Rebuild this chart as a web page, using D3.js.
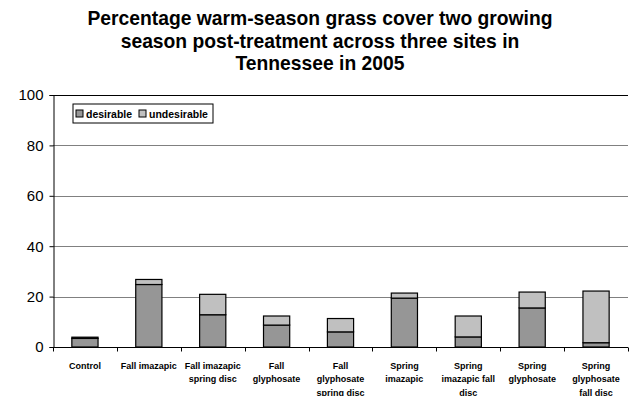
<!DOCTYPE html>
<html>
<head>
<meta charset="utf-8">
<script src="https://cdn.jsdelivr.net/npm/d3@7"></script>
<style>
  body { margin: 0; background: #fff; }
  svg { font-family: "Liberation Sans", Arial, sans-serif; }
</style>
</head>
<body>
<div id="chart"></div>
<script>
// chart data
var categories = [
  ["Control"],
  ["Fall imazapic"],
  ["Fall imazapic", "spring disc"],
  ["Fall", "glyphosate"],
  ["Fall", "glyphosate", "spring disc"],
  ["Spring", "imazapic"],
  ["Spring", "imazapic fall", "disc"],
  ["Spring", "glyphosate"],
  ["Spring", "glyphosate", "fall disc"]
];
var desirable   = [3.4, 24.8, 12.8, 8.7, 6.0, 19.4, 4.0, 15.5, 1.7];
var undesirable = [0.5, 2.0, 8.1, 3.6, 5.3, 2.0, 8.3, 6.3, 20.5];
var seriesNames = ["desirable", "undesirable"];
var yTicks = [0, 20, 40, 60, 80, 100];
var titleLines = [
  "Percentage warm-season grass cover two growing",
  "season post-treatment across three sites in",
  "Tennessee in 2005"
];

var width = 633, height = 396;
var margin = {top: 95, right: 5, bottom: 49, left: 53};
var colors = {desirable: "#969696", undesirable: "#c0c0c0"};

var svg = d3.select("#chart").append("svg")
    .attr("width", width)
    .attr("height", height);

// title
svg.append("g").selectAll("text")
    .data(titleLines)
  .enter().append("text")
    .attr("x", 320)
    .attr("y", function(d, i) { return 25 + i * 22.5; })
    .attr("text-anchor", "middle")
    .style("font-size", "19.3px")
    .style("font-weight", "bold")
    .text(function(d) { return d; });

var x = d3.scaleBand()
    .domain(d3.range(categories.length))
    .range([margin.left, width - margin.right])
    .paddingInner(0.59)
    .paddingOuter(0.295);

var xb = d3.scaleBand()
    .domain(d3.range(categories.length))
    .range([margin.left, width - margin.right]);

var y = d3.scaleLinear()
    .domain([0, 100])
    .range([height - margin.bottom, margin.top]);

// gridlines
svg.append("g").selectAll("line")
    .data(yTicks.filter(function(d) { return d > 0; }))
  .enter().append("line")
    .attr("x1", margin.left)
    .attr("x2", width - margin.right)
    .attr("y1", function(d) { return Math.round(y(d)) + 0.5; })
    .attr("y2", function(d) { return Math.round(y(d)) + 0.5; })
    .attr("stroke", function(d) { return d == 100 ? "#000" : "#808080"; })
    .attr("stroke-width", 1);

// stacked bars
var rows = categories.map(function(c, i) {
  return {i: i, desirable: desirable[i], undesirable: undesirable[i]};
});
var stacked = d3.stack().keys(seriesNames)(rows);

svg.append("g").selectAll("g")
    .data(stacked)
  .enter().append("g")
    .attr("fill", function(d) { return colors[d.key]; })
  .selectAll("rect")
    .data(function(d) { return d; })
  .enter().append("rect")
    .attr("x", function(d) { return x(d.data.i); })
    .attr("y", function(d) { return y(d[1]); })
    .attr("width", x.bandwidth())
    .attr("height", function(d) { return y(d[0]) - y(d[1]); })
    .attr("stroke", "#000")
    .attr("stroke-width", 1.2);

// y axis
var yAxis = svg.append("g")
    .attr("transform", "translate(" + (margin.left + 0.5) + ",0)")
    .call(d3.axisLeft(y).tickValues(yTicks).tickSize(4).tickPadding(6));
yAxis.select(".domain").attr("stroke", "#000");
yAxis.selectAll("text")
    .style("font-size", "15px")
    .style("font-family", "Liberation Sans, Arial, sans-serif")
    .attr("fill", "#000");

// x axis with ticks at category boundaries
var xg = svg.append("g")
    .attr("transform", "translate(0," + (Math.round(y(0)) + 0.5) + ")");
xg.append("line")
    .attr("x1", margin.left)
    .attr("x2", width - margin.right)
    .attr("stroke", "#000");
xg.selectAll(".tick")
    .data(d3.range(categories.length + 1))
  .enter().append("line")
    .attr("x1", function(d) { return Math.round(d < categories.length ? xb(d) : xb.range()[1]) + 0.5; })
    .attr("x2", function(d) { return Math.round(d < categories.length ? xb(d) : xb.range()[1]) + 0.5; })
    .attr("y1", 0)
    .attr("y2", 4)
    .attr("stroke", "#000");

var labels = xg.selectAll(".cat")
    .data(categories)
  .enter().append("text")
    .attr("text-anchor", "middle")
    .attr("x", function(d, i) { return xb(i) + xb.bandwidth() / 2; })
    .attr("y", 21)
    .style("font-size", "9px")
    .style("font-weight", "bold");
labels.selectAll("tspan")
    .data(function(d) { return d; })
  .enter().append("tspan")
    .attr("x", function() { return this.parentNode.getAttribute("x"); })
    .attr("dy", function(d, i) { return i == 0 ? 0 : 13.5; })
    .text(function(d) { return d; });

// legend
var legend = svg.append("g").attr("transform", "translate(73,104)");
legend.append("rect")
    .attr("width", 140)
    .attr("height", 19)
    .attr("fill", "#fff")
    .attr("stroke", "#000");
var items = legend.selectAll(".item")
    .data(seriesNames)
  .enter().append("g")
    .attr("transform", function(d, i) { return "translate(" + (3 + i * 63) + ",6)"; });
items.append("rect")
    .attr("width", 7)
    .attr("height", 7)
    .attr("fill", function(d) { return colors[d]; })
    .attr("stroke", "#000");
items.append("text")
    .attr("x", 10)
    .attr("y", 7.5)
    .style("font-size", "10.5px")
    .style("font-weight", "bold")
    .text(function(d) { return d; });
</script>
</body>
</html>
